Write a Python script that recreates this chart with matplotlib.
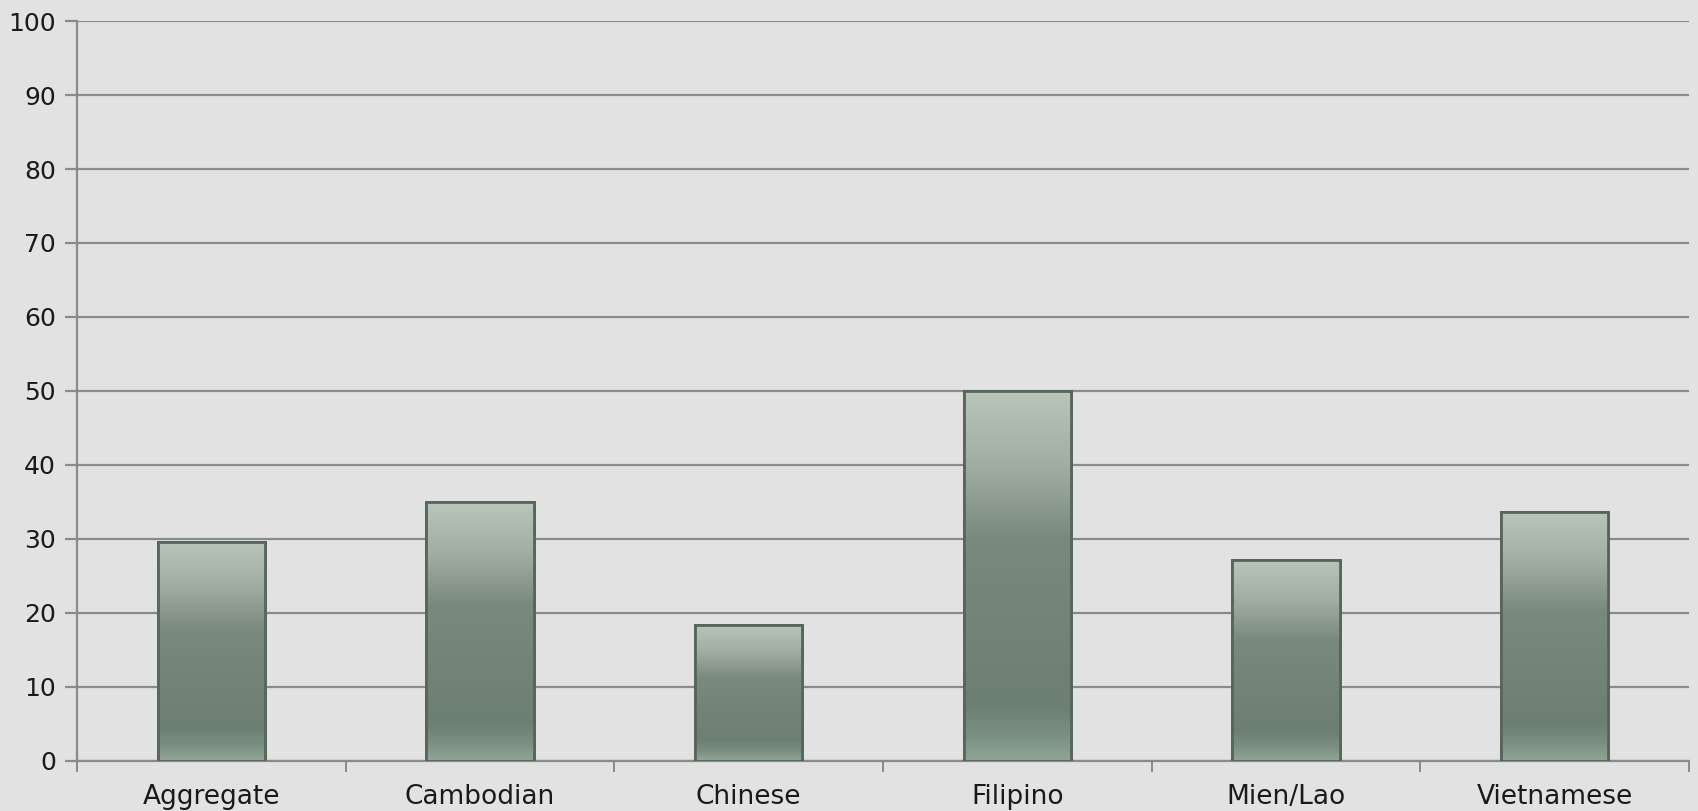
import numpy as np
import matplotlib
matplotlib.use('Agg')
import matplotlib.pyplot as plt
from matplotlib.colors import LinearSegmentedColormap

# data
groups = ['Aggregate', 'Cambodian', 'Chinese', 'Filipino', 'Mien/Lao', 'Vietnamese']
values = [29.6, 35.0, 18.4, 50.0, 27.1, 33.6]
yticks = [0, 10, 20, 30, 40, 50, 60, 70, 80, 90, 100]

bg = '#e2e2e2'
grid_col = '#8a8a8a'

plt.rcParams['font.family'] = ['DejaVu Sans']

fig = plt.figure(figsize=(16.98, 8.11), dpi=100, facecolor=bg)
ax = fig.add_axes([0.0453, 0.062, 0.9494, 0.912])
ax.set_facecolor(bg)

x = np.arange(len(groups))
bars = ax.bar(x, values, width=0.4, color='#74857a', edgecolor='#56665b',
              linewidth=2, zorder=3)

# vertical gradient inside each bar (light top, dark middle, lighter foot)
cmap = LinearSegmentedColormap.from_list('bar', [
    (0.0, '#b9c4ba'), (0.2, '#a1ada2'), (0.4, '#7a897d'),
    (0.85, '#6d7e73'), (0.93, '#7a8f81'), (1.0, '#8fa697')])
grad = np.linspace(0, 1, 256).reshape(-1, 1)
for b in bars:
    x0, w, h = b.get_x(), b.get_width(), b.get_height()
    im = ax.imshow(grad, cmap=cmap, aspect='auto', extent=(x0, x0 + w, 0, h),
                   origin='upper', zorder=3.5, interpolation='bilinear')
    im.set_clip_path(b)
    ax.add_patch(plt.Rectangle((x0, 0), w, h, fill=False, edgecolor='#56665b',
                               linewidth=2, zorder=4))

ax.set_xlim(-0.5, len(groups) - 0.5)
ax.set_ylim(0, 100)
ax.set_yticks(yticks)
ax.yaxis.grid(True, color=grid_col, linewidth=1.6, zorder=1)
ax.set_axisbelow(True)

ax.set_xticks(x)
ax.set_xticklabels(groups)
ax.set_xticks(np.arange(-0.5, len(groups)), minor=True)
ax.tick_params(axis='x', which='major', length=0, pad=17, labelsize=19,
               labelcolor='#1a1a1a')
ax.tick_params(axis='x', which='minor', length=8, width=1.4, color=grid_col)
ax.tick_params(axis='y', length=9, width=1.6, color=grid_col, labelsize=18,
               labelcolor='#1a1a1a', pad=6)

for s in ['top', 'right']:
    ax.spines[s].set_visible(False)
for s in ['left', 'bottom']:
    ax.spines[s].set_color(grid_col)
    ax.spines[s].set_linewidth(1.6)

fig.savefig('out.png', dpi=100, facecolor=bg)
